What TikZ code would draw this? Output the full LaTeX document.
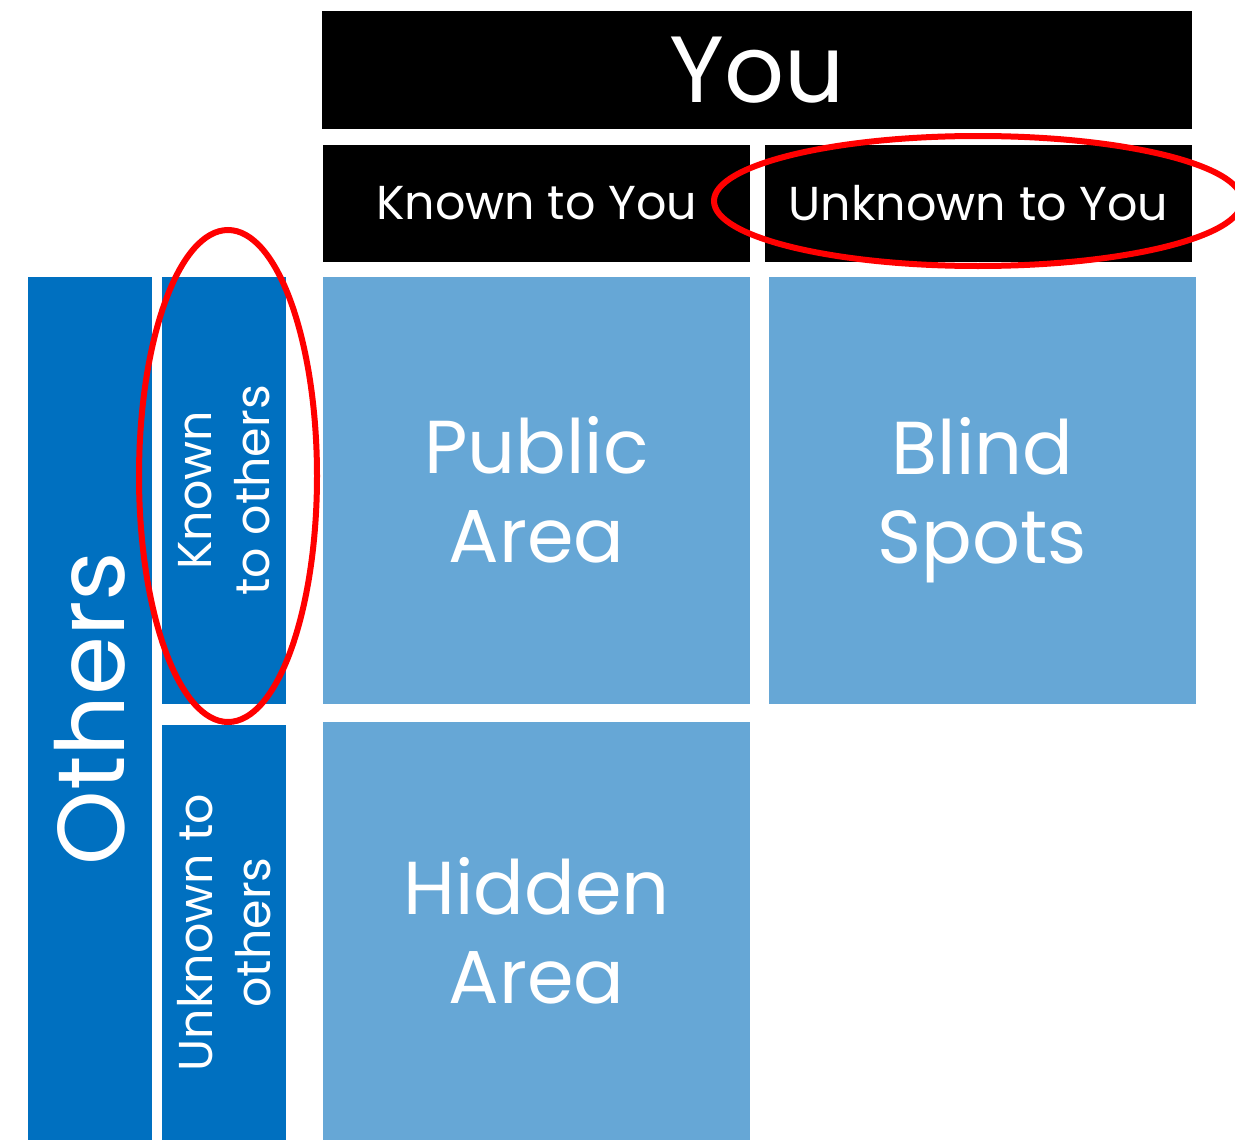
\documentclass[tikz,border=0pt]{standalone}
\usepackage{fontspec}
\setmainfont{Poppins}
\usetikzlibrary{shapes.geometric}
\definecolor{darkblue}{RGB}{0,112,192}
\definecolor{lightblue}{RGB}{102,167,214}
\definecolor{ringred}{RGB}{255,0,0}
\begin{document}
\begin{tikzpicture}[x=1pt,y=-1pt,
  box/.style={rectangle, inner sep=0pt, outer sep=0pt, text=white, align=center},
  head/.style={box, fill=black, minimum width=427pt, minimum height=117.5pt, font=\fontsize{47.6}{56}\selectfont},
  area/.style={box, fill=lightblue, minimum width=427pt, font=\fontsize{75}{89}\selectfont},
  side/.style={box, fill=darkblue, rotate=90, minimum height=124pt, font=\fontsize{47.5}{58}\selectfont},
  ring/.style={ellipse, draw=ringred, line width=6pt, inner sep=0pt, fill=none}
]
\clip (0,0) rectangle (1235,1140);
\fill[white] (0,0) rectangle (1235,1140);
% top headers
\node[box, fill=black, minimum width=870pt, minimum height=117.5pt, font=\fontsize{94}{100}\selectfont] (you) at (757,69.75) {You};
\node[head] (kty) at (536.5,203.25) {Known to You};
\node[head] (uty) at (978.5,203.25) {Unknown to You};
% side headers
\node[box, fill=darkblue, rotate=90, minimum width=863pt, minimum height=124pt, font=\fontsize{95}{100}\selectfont] (others) at (90,708.5) {Others};
\node[side, minimum width=426.5pt] (kto) at (224,490.25) {Known\\to others};
\node[side, minimum width=415pt] (uto) at (224,932.5) {Unknown to\\others};
% areas
\node[area, minimum height=426.5pt] (public) at (536.5,490.25) {Public\\Area};
\node[area, minimum height=426.5pt] (blind) at (982.5,490.25) {Blind\\\smash{Spots}};
\node[area, minimum height=418pt] (hidden) at (536.5,931) {Hidden\\Area};
% red rings
\node[ring, minimum width=178pt, minimum height=492pt] (ring1) at (228,476) {};
\node[ring, minimum width=528pt, minimum height=130pt] (ring2) at (978,201) {};
\end{tikzpicture}
\end{document}
